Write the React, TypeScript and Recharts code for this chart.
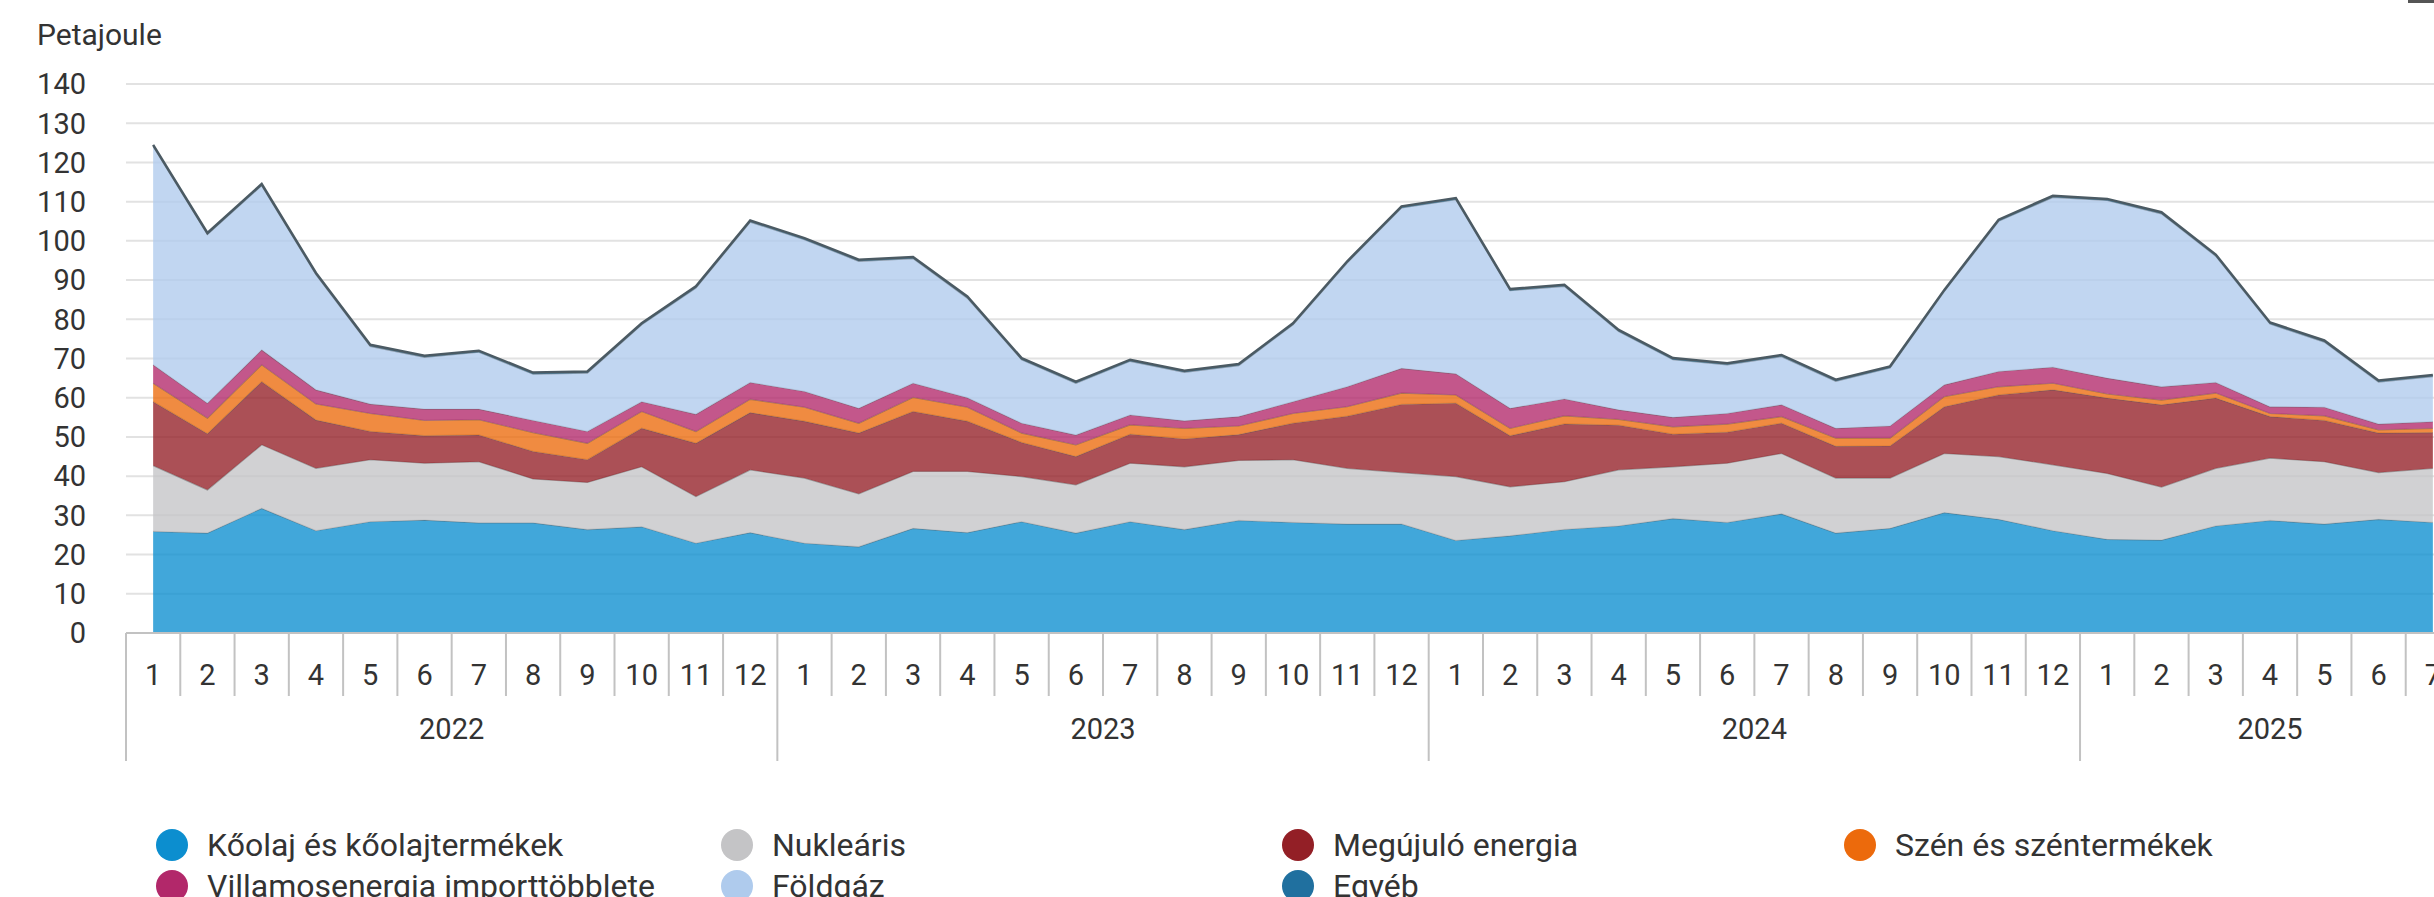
import React from 'react'
import { Area, AreaChart, CartesianGrid, XAxis, YAxis } from 'recharts'

const years = ['2022', '2023', '2024', '2025']
const monthsInYear = [12, 12, 12, 7]
const yTicks = [0, 10, 20, 30, 40, 50, 60, 70, 80, 90, 100, 110, 120, 130, 140]

const koolaj = [25.9, 25.5, 31.8, 26.1, 28.4, 28.8, 28.1, 28.1, 26.4, 27.1, 22.9, 25.6, 22.9, 22.0, 26.7, 25.6, 28.4, 25.5, 28.4, 26.4, 28.7, 28.2, 27.8, 27.8, 23.6, 24.8, 26.4, 27.3, 29.2, 28.2, 30.4, 25.5, 26.7, 30.7, 29.0, 26.1, 23.9, 23.7, 27.3, 28.7, 27.8, 29.0, 28.2]
const nuklearis = [16.8, 11.0, 16.2, 15.9, 15.8, 14.5, 15.6, 11.2, 12.0, 15.3, 11.9, 16.0, 16.6, 13.5, 14.5, 15.6, 11.5, 12.3, 14.9, 16.0, 15.3, 16.0, 14.2, 13.1, 16.3, 12.5, 12.2, 14.3, 13.2, 15.1, 15.4, 14.0, 12.8, 15.1, 16.0, 16.8, 16.8, 13.5, 14.7, 15.9, 15.9, 11.9, 13.8]
const megujulo = [16.3, 14.3, 16.1, 12.3, 7.2, 7.0, 6.8, 7.0, 5.8, 9.8, 13.6, 14.6, 14.5, 15.5, 15.3, 12.8, 8.7, 7.2, 7.4, 7.1, 6.6, 9.3, 13.3, 17.4, 18.7, 13.0, 14.7, 11.4, 8.3, 7.9, 7.7, 8.1, 8.2, 11.9, 15.7, 19.1, 19.2, 21.0, 17.9, 10.6, 10.5, 10.1, 9.1]
const szen = [4.7, 4.0, 4.3, 4.1, 4.6, 3.9, 3.9, 4.8, 4.2, 4.3, 3.0, 3.4, 3.6, 2.5, 3.6, 3.6, 2.4, 3.0, 2.4, 2.7, 2.2, 2.5, 2.4, 2.9, 2.1, 1.9, 2.1, 1.5, 1.9, 2.1, 1.7, 2.1, 2.0, 2.6, 2.1, 1.7, 1.1, 1.2, 1.3, 0.8, 1.2, 0.8, 1.1]
const villamos = [4.7, 3.8, 3.8, 3.6, 2.4, 2.9, 2.7, 3.1, 3.0, 2.5, 4.4, 4.3, 4.0, 3.8, 3.6, 2.4, 2.5, 2.5, 2.5, 1.9, 2.4, 3.0, 5.1, 6.3, 5.4, 5.1, 4.3, 2.4, 2.4, 2.7, 3.0, 2.5, 3.1, 3.0, 3.9, 4.1, 4.0, 3.4, 2.7, 1.7, 2.2, 1.5, 1.7]
const foldgaz = [55.7, 43.0, 41.9, 29.4, 14.7, 13.2, 14.5, 11.8, 14.9, 19.6, 32.2, 40.9, 38.7, 37.5, 31.8, 25.4, 16.2, 13.2, 13.7, 12.4, 13.0, 19.6, 31.6, 40.9, 44.4, 30.0, 28.7, 20.0, 14.7, 12.4, 12.3, 12.0, 14.8, 23.8, 38.3, 43.3, 45.3, 44.1, 32.2, 21.1, 16.6, 10.7, 11.5]
const egyeb = [0.4, 0.4, 0.4, 0.4, 0.4, 0.4, 0.4, 0.4, 0.4, 0.4, 0.4, 0.4, 0.4, 0.4, 0.4, 0.4, 0.4, 0.4, 0.4, 0.4, 0.4, 0.4, 0.4, 0.4, 0.4, 0.4, 0.4, 0.4, 0.4, 0.4, 0.4, 0.4, 0.4, 0.4, 0.4, 0.4, 0.4, 0.4, 0.4, 0.4, 0.4, 0.4, 0.4]

const series = [
  { key: 'koolaj', name: 'Kőolaj és kőolajtermékek', color: '#0c8ecf', values: koolaj },
  { key: 'nuklearis', name: 'Nukleáris', color: '#c4c4c6', values: nuklearis },
  { key: 'megujulo', name: 'Megújuló energia', color: '#931f26', values: megujulo },
  { key: 'szen', name: 'Szén és széntermékek', color: '#ec6a0c', values: szen },
  { key: 'villamos', name: 'Villamosenergia importtöbblete', color: '#b2286a', values: villamos },
  { key: 'foldgaz', name: 'Földgáz', color: '#afcbed', values: foldgaz },
  { key: 'egyeb', name: 'Egyéb', color: '#20709f', values: egyeb },
]

type Row = { [k: string]: number | string }
const rows: Row[] = []
years.forEach((year, yi) => {
  for (let m = 1; m <= monthsInYear[yi]; m++) {
    const i = rows.length
    const row: Row = { key: `${year}-${m}`, year, month: m, count: monthsInYear[yi] }
    series.forEach((s) => { row[s.key] = s.values[i] })
    rows.push(row)
  }
})

const FONT = 'Roboto, sans-serif'
const PLOT_W = 2334
const BAND = PLOT_W / rows.length

function MonthTick(props: any) {
  const { x, y, index } = props
  const row = rows[index]
  if (!row) return null
  const left = x - BAND / 2
  const first = row.month === 1
  return (
    <g>
      <line x1={left} x2={left} y1={y} y2={y + (first ? 128 : 63)} stroke='#c2c2c2' strokeWidth={2} />
      <text x={x} y={y + 42} textAnchor='middle' dominantBaseline='central' fontSize={29} fontFamily={FONT} fill='#333'>
        {row.month}
      </text>
      {first && (
        <text x={left + (Number(row.count) * BAND) / 2} y={y + 96} textAnchor='middle' dominantBaseline='central' fontSize={29} fontFamily={FONT} fill='#333'>
          {row.year}
        </text>
      )}
    </g>
  )
}

const legendCols = [172, 737, 1298, 1860]
const legendRows = [845, 886]

export default function App() {
  return (
    <div style={{ position: 'absolute', left: 0, top: 0, width: 2434, height: 897, overflow: 'hidden', background: '#fff', fontFamily: FONT }}>
      <div style={{ position: 'absolute', left: 37, top: 20, fontSize: 30, lineHeight: '30px', color: '#333' }}>Petajoule</div>
      <div style={{ position: 'absolute', left: 0, top: 0, width: 2434, height: 770, overflow: 'hidden' }}>
        <AreaChart width={2470} height={770} data={rows} margin={{ top: 84, right: 10, bottom: 9, left: 0 }} accessibilityLayer={false}>
          <CartesianGrid vertical={false} stroke='#e2e2e2' strokeWidth={2} />
          <XAxis
            dataKey='key'
            interval={0}
            tickSize={0}
            tickMargin={0}
            height={128}
            padding={{ left: BAND / 2, right: BAND / 2 }}
            axisLine={{ stroke: '#c2c2c2', strokeWidth: 2 }}
            tickLine={false}
            tick={(p: any) => <MonthTick {...p} />}
          />
          <YAxis
            domain={[0, 140]}
            ticks={yTicks}
            interval={0}
            width={126}
            tickSize={0}
            tickMargin={40}
            axisLine={false}
            tickLine={false}
            tick={{ fontSize: 29, fill: '#333', fontFamily: FONT }}
          />
          {series.map((s) => (
            <Area
              key={s.key}
              type='linear'
              dataKey={s.key}
              name={s.name}
              stackId='1'
              fill={s.color}
              fillOpacity={0.78}
              stroke={s.key === 'egyeb' ? '#4b5a63' : '#555'}
              strokeOpacity={s.key === 'egyeb' ? 1 : 0.45}
              strokeWidth={s.key === 'egyeb' ? 2.5 : 1.3}
              dot={false}
              activeDot={false}
              isAnimationActive={false}
            />
          ))}
        </AreaChart>
      </div>
      <div style={{ position: 'absolute', left: 2408, top: 0, width: 26, height: 3, background: '#555' }} />
      {series.map((s, i) => {
        const col = i < 4 ? i : i - 4
        const r = i < 4 ? 0 : 1
        const cx = legendCols[col]
        const cy = legendRows[r]
        return (
          <div key={s.key}>
            <div style={{ position: 'absolute', left: cx - 16, top: cy - 16, width: 32, height: 32, borderRadius: 16, background: s.color }} />
            <div style={{ position: 'absolute', left: cx + 35, top: cy - 19, fontSize: 32, lineHeight: '38px', color: '#333', whiteSpace: 'nowrap' }}>{s.name}</div>
          </div>
        )
      })}
    </div>
  )
}
